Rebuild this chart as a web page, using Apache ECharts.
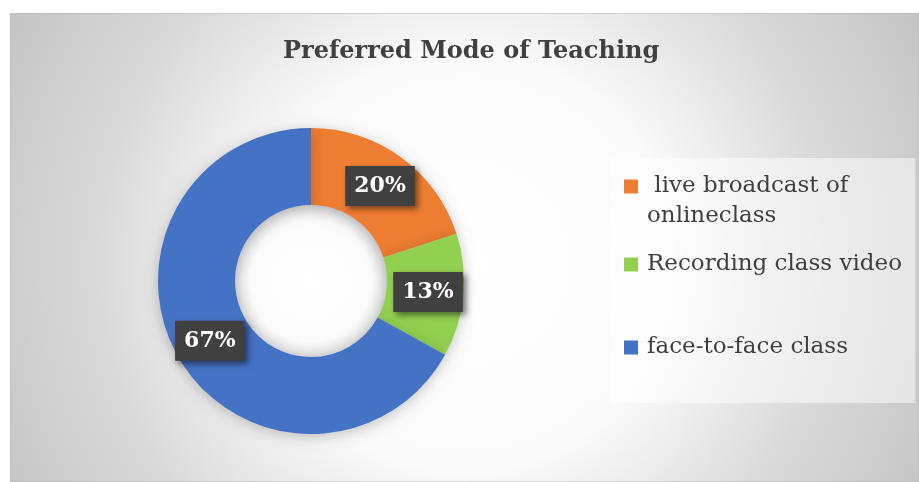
<!DOCTYPE html>
<html>
<head>
<meta charset="utf-8">
<script src="https://cdn.jsdelivr.net/npm/echarts@6/dist/echarts.min.js"></script>
<style>
  html, body { margin: 0; padding: 0; background: #fff; }
  #chart { position: absolute; left: 10px; top: 13px; width: 909px; height: 469px; }
</style>
</head>
<body>
<div id="chart"></div>
<script>
// data
const modes = ['live broadcast of onlineclass', 'Recording class video', 'face-to-face class'];
const shares = [20, 13, 67];
const colors = ['#ED7D31', '#92D050', '#4472C4'];

const chart = echarts.init(document.getElementById('chart'));

const serif = 'DejaVu Serif';
const textColor = '#404040';
const pieCenter = [301, 268];

// one legend per item so the uneven spacing of the original can be kept
const legendTops = [159, 237, 320];
const legends = modes.map((name, i) => ({
  data: [name],
  left: 614,
  top: legendTops[i],
  padding: 0,
  icon: 'rect',
  itemWidth: 14,
  itemHeight: 14,
  selectedMode: false,
  formatter: n => (i === 0 ? ' live broadcast of' : n),
  textStyle: {
    fontFamily: serif,
    fontSize: 23,
    color: textColor,
    lineHeight: 29,
    padding: [0, 0, 0, 4]
  }
}));

const option = {
  animation: false,
  title: {
    text: 'Preferred Mode of Teaching',
    left: 268,
    top: 22,
    textStyle: { fontFamily: serif, fontWeight: 'bold', fontSize: 24, color: textColor }
  },
  graphic: [
    {
      type: 'rect',
      z: -10,
      shape: { x: 0, y: 0, width: 909, height: 469 },
      style: {
        fill: new echarts.graphic.RadialGradient(455, 250, 520, [
          { offset: 0, color: '#ffffff' },
          { offset: 0.4, color: '#fafafa' },
          { offset: 0.7, color: '#dadada' },
          { offset: 1, color: '#c4c4c4' }
        ], true),
        stroke: '#b8b8b8',
        lineWidth: 1
      }
    },
    {
      type: 'rect',
      z: -9,
      shape: { x: 601, y: 145, width: 304, height: 245 },
      style: { fill: 'rgba(255,255,255,0.5)' }
    },
    {
      type: 'circle',
      z: -8,
      shape: { cx: pieCenter[0], cy: pieCenter[1], r: 76 },
      style: {
        fill: new echarts.graphic.RadialGradient(0.5, 0.5, 0.5, [
          { offset: 0, color: '#ffffff' },
          { offset: 0.8, color: '#fbfbfb' },
          { offset: 1, color: '#e2e2e2' }
        ])
      }
    },
    {
      type: 'text',
      left: 637,
      top: 192,
      style: { text: 'onlineclass', fontFamily: serif, fontSize: 23, fill: textColor }
    }
  ],
  legend: legends,
  series: [
    {
      type: 'pie',
      center: pieCenter,
      radius: [76, 153],
      startAngle: 90,
      clockwise: true,
      itemStyle: {
        shadowBlur: 14,
        shadowColor: 'rgba(0,0,0,0.22)',
        shadowOffsetY: 3
      },
      label: {
        show: true,
        position: 'inside',
        formatter: '{c}%',
        fontFamily: serif,
        fontWeight: 'bold',
        fontSize: 22,
        color: '#ffffff',
        backgroundColor: '#404040',
        padding: [10, 9, 8, 9],
        shadowBlur: 6,
        shadowColor: 'rgba(0,0,0,0.5)',
        shadowOffsetX: 3,
        shadowOffsetY: 3
      },
      labelLine: { show: false },
      emphasis: { disabled: true },
      data: modes.map((name, i) => ({
        name,
        value: shares[i],
        itemStyle: { color: colors[i] }
      }))
    }
  ]
};

chart.setOption(option);
</script>
</body>
</html>
